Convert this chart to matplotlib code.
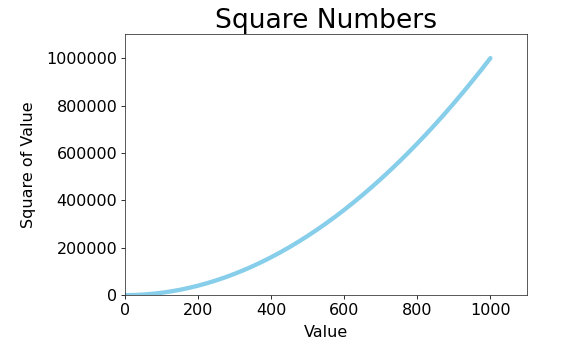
import matplotlib
matplotlib.use("Agg")
import matplotlib.pyplot as plt

# values, every 25 along x
x_values = [1, 25, 50, 75, 100, 125, 150, 175, 200, 225, 250, 275, 300, 325,
            350, 375, 400, 425, 450, 475, 500, 525, 550, 575, 600, 625, 650,
            675, 700, 725, 750, 775, 800, 825, 850, 875, 900, 925, 950, 975, 1000]
y_values = [1, 625, 2500, 5625, 10000, 15625, 22500, 30625, 40000, 50625,
            62500, 75625, 90000, 105625, 122500, 140625, 160000, 180625,
            202500, 225625, 250000, 275625, 302500, 330625, 360000, 390625,
            422500, 455625, 490000, 525625, 562500, 600625, 640000, 680625,
            722500, 765625, 810000, 855625, 902500, 950625, 1000000]

fig = plt.figure(figsize=(563 / 72, 344 / 72), dpi=72)
ax = fig.add_axes([0.222, 0.142, 0.714, 0.758])

ax.plot(x_values, y_values, color="skyblue", linewidth=4.3,
        solid_capstyle="round", solid_joinstyle="round")

ax.set_title("Square Numbers", fontsize=26.5, pad=6)
ax.set_xlabel("Value", fontsize=16, labelpad=7)
ax.set_ylabel("Square of Value", fontsize=16, labelpad=10)
ax.tick_params(axis="both", which="major", labelsize=16, length=4)
ax.ticklabel_format(style="plain", axis="y")
ax.axis([0, 1100, 0, 1100000])
for spine in ax.spines.values():
    spine.set_color("#333333")

plt.savefig("out.png", dpi=72)
plt.close()
